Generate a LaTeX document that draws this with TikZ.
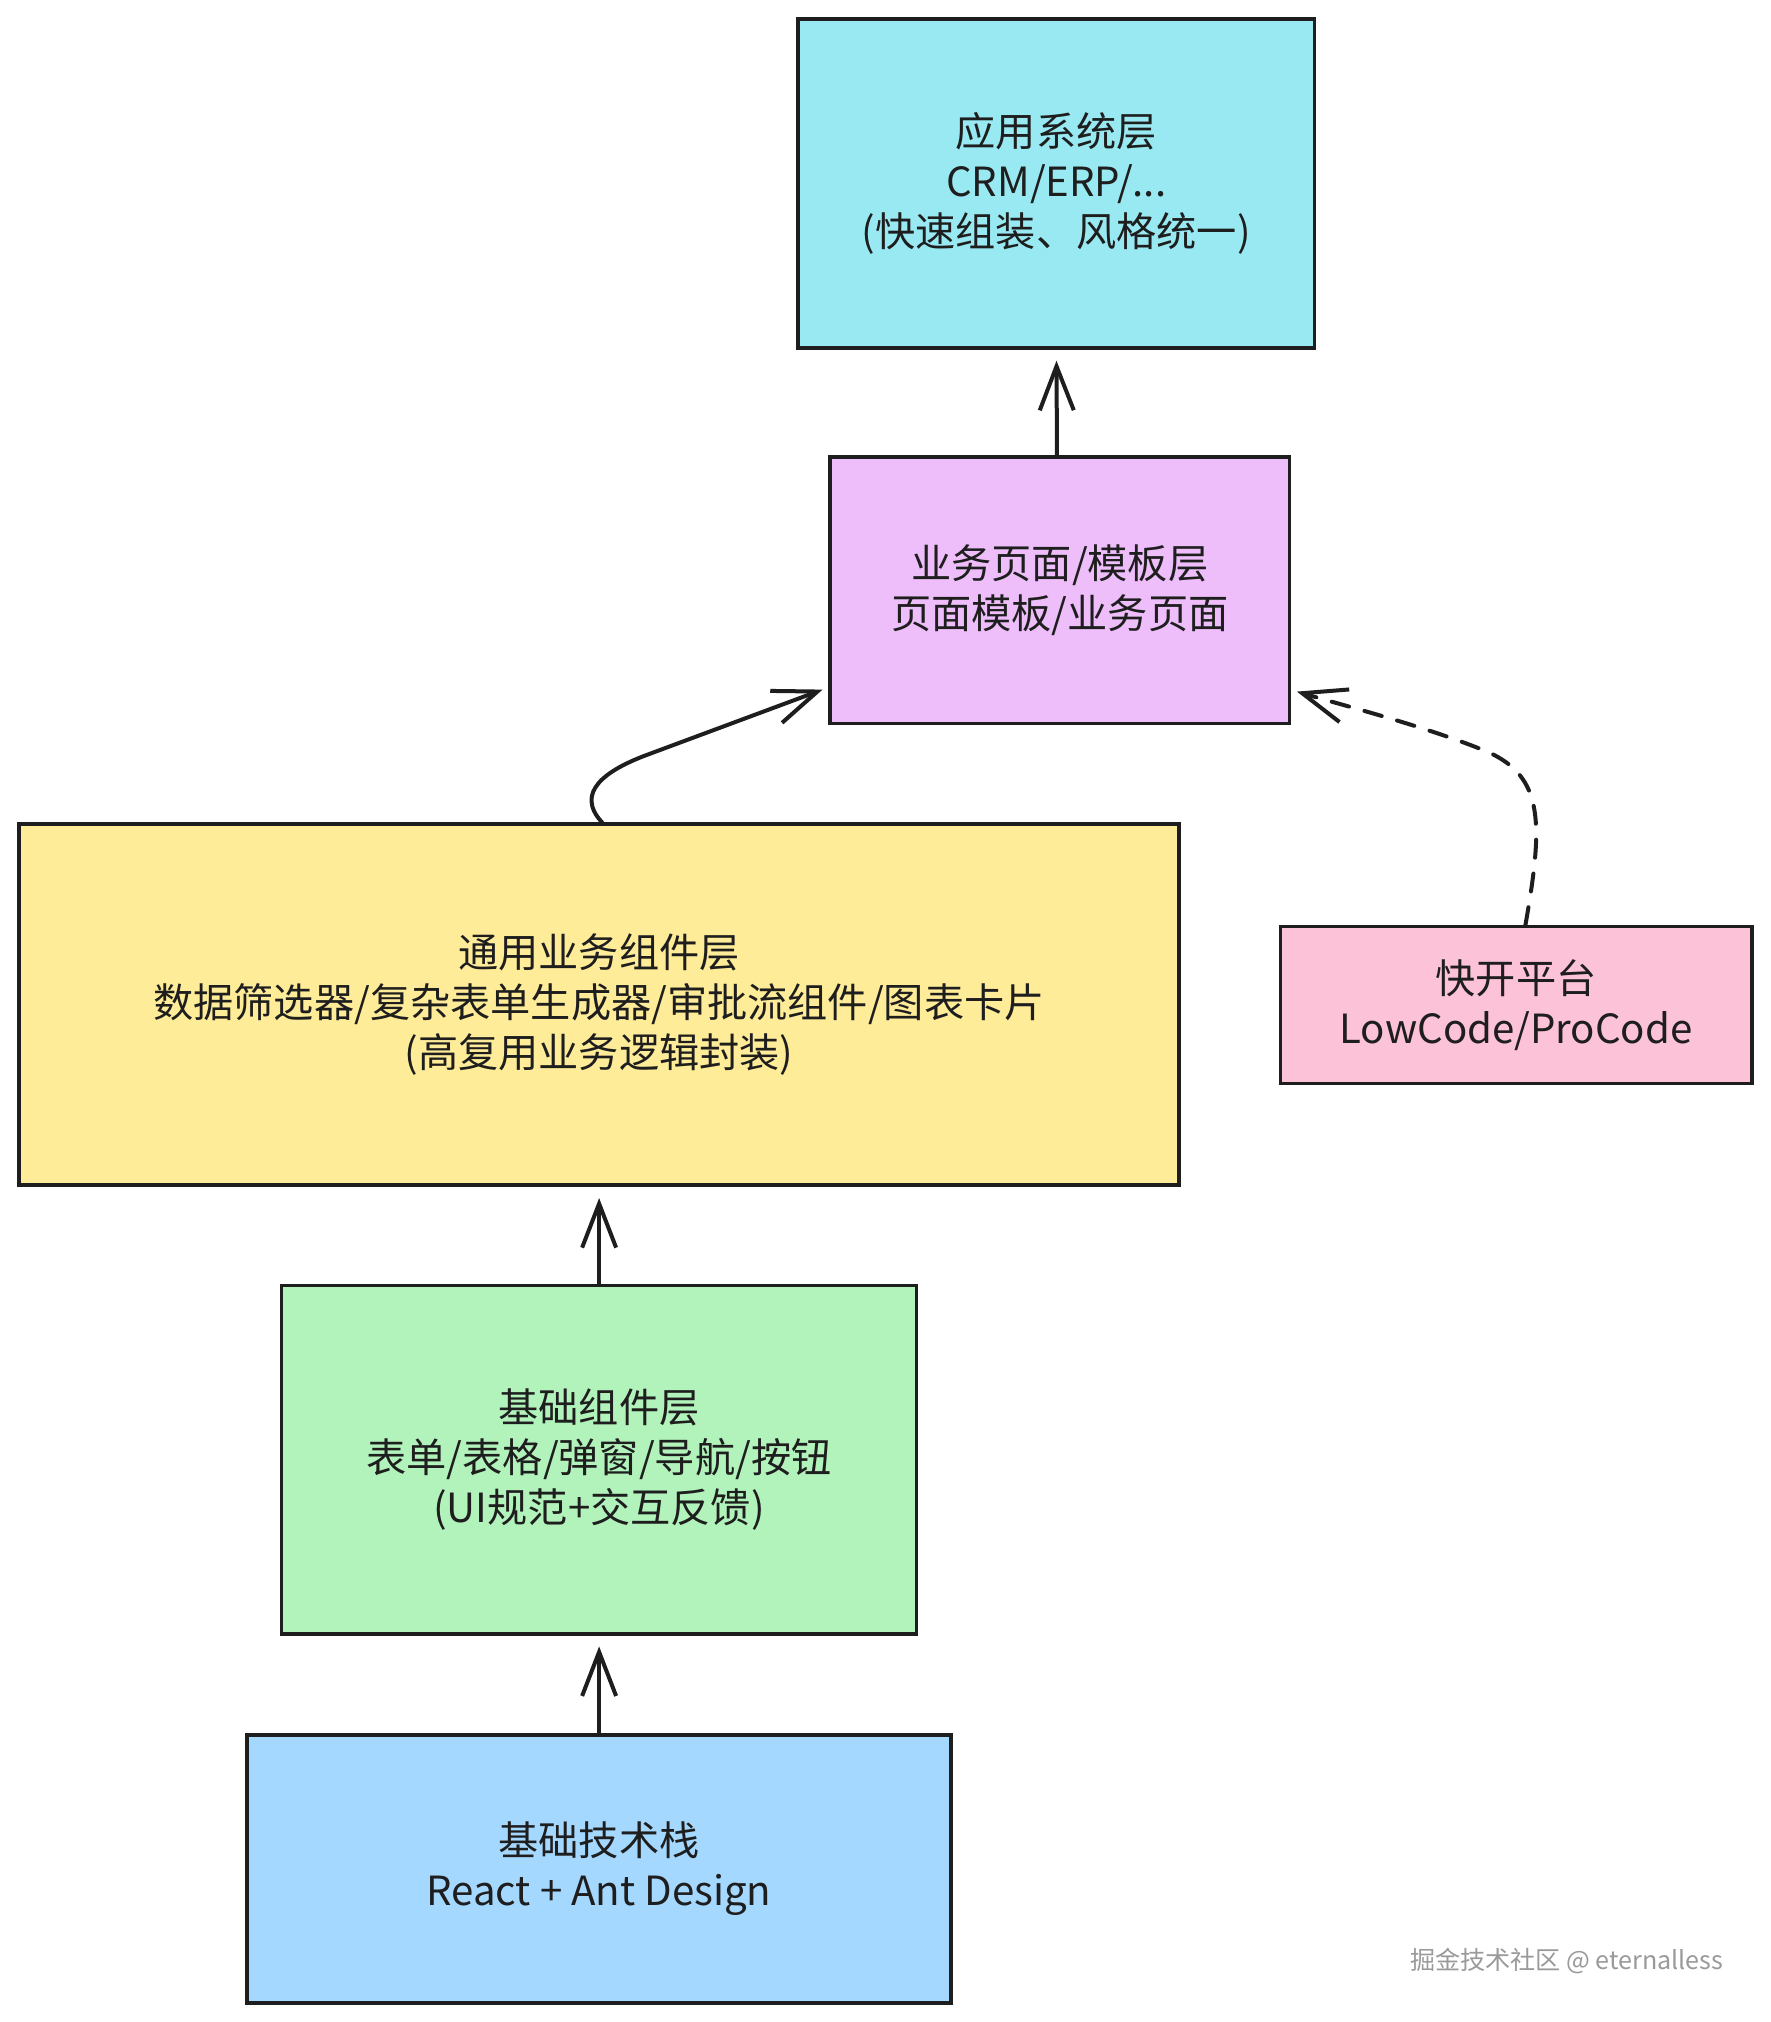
\documentclass[tikz,border=0pt]{standalone}
\usepackage{fontspec}
\setmainfont{Noto Sans CJK SC}
\newfontfamily\cjk{Noto Sans CJK SC}
\usetikzlibrary{arrows.meta}
\definecolor{stroke}{HTML}{1E1E1E}
\definecolor{cyanfill}{HTML}{99E9F2}
\definecolor{purplefill}{HTML}{EEBEFA}
\definecolor{yellowfill}{HTML}{FFEC99}
\definecolor{pinkfill}{HTML}{FCC2D7}
\definecolor{greenfill}{HTML}{B2F2BB}
\definecolor{bluefill}{HTML}{A5D8FF}
\definecolor{wmgray}{HTML}{9A9A9A}
\begin{document}
\begin{tikzpicture}[x=1pt,y=-1pt,scale=1.005,every node/.append style={transform shape},
  box/.style={draw=stroke, line width=3.7pt, inner sep=0pt, align=center,
    font=\cjk\fontsize{40}{50}\selectfont, text=stroke},
  conn/.style={draw=stroke, line width=4pt, line cap=round, line join=round,
    -{Straight Barb[length=44pt,width=34pt,line width=4pt]}},
  dashconn/.style={conn, dash pattern=on 18pt off 16pt},
]
\useasboundingbox (0,0) rectangle (1762.19,2011.94);
\fill[white] (0,0) rectangle (1762.19,2011.94);

\node[box, fill=cyanfill, minimum width=514pt, minimum height=327pt] (app) at (1051,182.5)
  {应用系统层\\CRM/ERP/...\\(快速组装、风格统一)};
\node[box, fill=purplefill, minimum width=457pt, minimum height=265pt] (page) at (1054.5,587.5)
  {业务页面/模板层\\页面模板/业务页面};
\node[box, fill=yellowfill, minimum width=1154pt, minimum height=359pt] (biz) at (596,999.5)
  {通用业务组件层\\数据筛选器/复杂表单生成器/审批流组件/图表卡片\\(高复用业务逻辑封装)};
\node[box, fill=pinkfill, minimum width=469pt, minimum height=156pt] (kk) at (1508.5,1000)
  {快开平台\\LowCode/ProCode};
\node[box, fill=greenfill, minimum width=632pt, minimum height=347pt] (base) at (596,1452.5)
  {基础组件层\\表单/表格/弹窗/导航/按钮\\(UI规范+交互反馈)};
\node[box, fill=bluefill, minimum width=700pt, minimum height=267pt] (tech) at (596,1859.5)
  {基础技术栈\\React + Ant Design};

\node[anchor=east, text=wmgray, font=\cjk\fontsize{25}{28}\selectfont, inner sep=0pt] (wm) at (1715,1951)
  {掘金技术社区 @ eternalless};

% connectors
\draw[conn] ([xshift=-3pt]page.north) -- ([yshift=-11pt]app.south);
\draw[conn] (base.north) -- ([yshift=-11pt]biz.south);
\draw[conn] (tech.north) -- ([yshift=-10pt]base.south);

\coordinate (c1) at ([xshift=-6pt,yshift=36pt]page.south west);
\draw[conn] ([xshift=3pt]biz.north) .. controls +(-28,-30) and +(-40,15) .. ++(44,-67) -- (c1);

\coordinate (c2) at ([xshift=5pt,yshift=34pt]page.south east);
\draw[dashconn] ([xshift=9pt]kk.north) .. controls +(18,-102) and +(55,25) .. ++(-37,-172)
  .. controls +(-60,-25) and +(47,14) .. (c2);
\end{tikzpicture}
\end{document}
